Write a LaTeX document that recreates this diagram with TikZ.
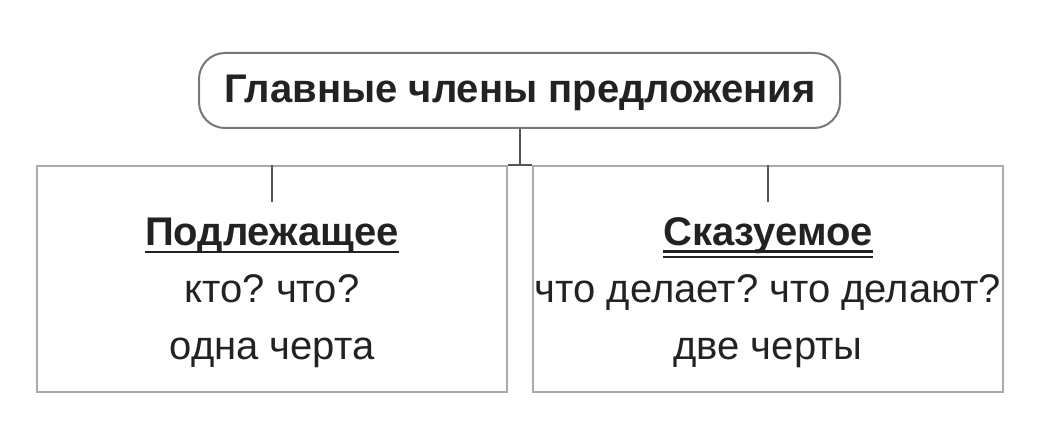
\documentclass[tikz,border=0pt]{standalone}
\usepackage{fontspec}
\setmainfont{Liberation Sans}
\usetikzlibrary{calc}
\frenchspacing
\definecolor{topgray}{HTML}{777777}
\definecolor{boxgray}{HTML}{AAAAAA}
\definecolor{linegray}{HTML}{555555}
\definecolor{txt}{HTML}{222222}
\begin{document}
\begin{tikzpicture}[x=1pt,y=-1pt,
  topbox/.style={draw=topgray, line width=2pt, rounded corners=26pt, minimum width=641pt, minimum height=75pt, inner sep=0pt},
  lowbox/.style={draw=boxgray, line width=2pt, minimum width=470pt, minimum height=226pt, inner sep=0pt},
  conn/.style={draw=linegray, line width=2pt},
  ttl/.style={font=\fontsize{40}{46}\selectfont\bfseries, text=txt, anchor=base, inner sep=0pt},
  hdr/.style={font=\fontsize{40}{46}\selectfont\bfseries, text=txt, anchor=base, inner sep=0pt},
  body/.style={font=\fontsize{40}{46}\selectfont\frenchspacing, text=txt, anchor=base, inner sep=0pt},
  uline/.style={draw=txt, line width=2.5pt}]
\useasboundingbox (0,0) rectangle (1040,446);
\node[topbox] (top) at (519.5,90.5) {};
\node[ttl] (toptext) at (520,103) {Главные члены предложения};
\node[lowbox] (left) at (272,279) {};
\node[lowbox] (right) at (768,279) {};
% connectors
\coordinate (jn) at (top.south |- left.north);
\draw[conn] (top.south) -- (jn);
\draw[conn] (left.north east) -- (right.north west);
\coordinate (lt) at ($(left.north)+(0,37)$);
\coordinate (rt) at ($(right.north)+(0,37)$);
\draw[conn] (left.north) -- (lt);
\draw[conn] (right.north) -- (rt);
% left texts
\node[hdr] (lh) at (272,245) {Подлежащее};
\draw[uline] ($(lh.base west)+(0,7)$) -- ($(lh.base east)+(0,7)$);
\node[body] (l1) at (272,302) {кто? что?};
\node[body] (l2) at (272,359) {одна черта};
% right texts
\node[hdr] (rh) at (768,245) {Сказуемое};
\draw[uline] ($(rh.base west)+(0,6.5)$) -- ($(rh.base east)+(0,6.5)$);
\draw[uline] ($(rh.base west)+(0,12)$) -- ($(rh.base east)+(0,12)$);
\node[body] (r1) at (768,302) {что делает? что делают?};
\node[body] (r2) at (768,359) {две черты};
\end{tikzpicture}
\end{document}
